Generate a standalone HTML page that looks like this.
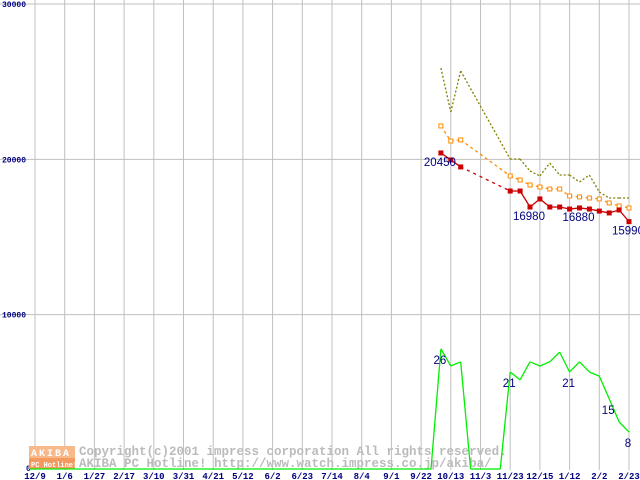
<!DOCTYPE html>
<html><head><meta charset="utf-8"><style>
body{margin:0;background:#fff;width:640px;height:480px;overflow:hidden}
svg{display:block;font-family:"Liberation Mono","DejaVu Sans Mono",monospace}
</style></head><body>
<svg id="c" width="640" height="480"></svg>
<script>
const xLabels=["12/9","1/6","1/27","2/17","3/10","3/31","4/21","5/12","6/2","6/23","7/14","8/4","9/1","9/22","10/13","11/3","11/23","12/15","1/12","2/2","2/23"];
const yTicks=[0,10000,20000,30000];
const startIdx=41;
const lowPrice=[20410,19960,19510,null,null,null,null,17960,17960,16930,17450,16930,16930,16800,16870,16800,16670,16550,16740,15990];
const avgPrice=[22150,21180,21250,null,null,null,null,18930,18670,18350,18220,18090,18090,17640,17580,17510,17450,17190,17000,16870];
const highPrice=[25880,23050,25690,null,null,null,null,20020,20020,19250,18930,19760,18990,18990,18540,18990,17900,17510,17510,17510];
const counts=[26,22.3,23.2,0,0,0,0,21,19.3,23.2,22.3,23.2,25.3,21,23.2,21,20.1,15.2,10.2,8];
const labels=[[0,"low","20450"],[9,"low","16980"],[14,"low","16880"],[19,"low","15990"],[0,"cnt","26"],[7,"cnt","21"],[13,"cnt","21"],[17,"cnt","15"],[19,"cnt","8"]];
const svg=document.getElementById('c');const NS="http://www.w3.org/2000/svg";
const X=i=>35+i*9.9;const Y=v=>470-v*0.015533;const YC=c=>469-c*4.62;
function mk(t,a,p){const e=document.createElementNS(NS,t);for(const k in a)e.setAttribute(k,a[k]);(p||svg).appendChild(e);return e;}
yTicks.forEach(v=>{if(v>0){const l=mk('line',{x1:0,x2:640,y1:Y(v),y2:Y(v),stroke:'#c0c0c0'});

}
const t=mk('text',{x:v?2:26,y:Y(v)+(v?3:1),fill:'#000080','font-size':8,'font-weight':'bold'});t.textContent=String(v);

});
xLabels.forEach((s,i)=>{const x=X(i*3);const l=mk('line',{x1:x,x2:x,y1:0,y2:470,stroke:'#c0c0c0'});


const t=mk('text',{x:x,y:479,fill:'#000080','font-size':9,'font-weight':'bold','text-anchor':'middle'});t.textContent=s;

});
const g=mk('g',{});


mk('rect',{x:29,y:446,width:46,height:12,fill:'#f7b88a'},g);mk('rect',{x:29,y:458,width:46,height:11,fill:'#f29a60'},g);
let t=mk('text',{x:31,y:456,fill:'#fff','font-size':10,'font-weight':'bold','letter-spacing':'2'},g);t.textContent="AKIBA";
t=mk('text',{x:31,y:467,fill:'#fff','font-size':7,'font-weight':'bold'},g);t.textContent="PC Hotline!";
t=mk('text',{x:79,y:455,fill:'#bbb','font-size':12.5,'font-weight':'bold'},g);t.textContent="Copyright(c)2001 impress corporation All rights reserved.";
t=mk('text',{x:79,y:467,fill:'#bbb','font-size':12.5,'font-weight':'bold'},g);t.textContent="AKIBA PC Hotline! http://www.watch.impress.co.jp/akiba/";
function series(arr,fy,color,dash,marker,name){
 let prev=null,prevI=null;
 arr.forEach((v,k)=>{if(v==null)return;const i=startIdx+k;
  if(prev!=null){const gap=i-prevI>1;const l=mk('line',{x1:X(prevI),y1:fy(prev),x2:X(i),y2:fy(v),stroke:color,'stroke-width':1.3});
   if(dash||gap)l.setAttribute('stroke-dasharray',dash||'3,4');
   
   }
  prev=v;prevI=i;});
 if(marker)arr.forEach((v,k)=>{if(v==null)return;const i=startIdx+k;
  const r=mk('rect',{x:X(i)-2,y:fy(v)-2,width:4,height:4,fill:marker==='open'?'#fff':color,stroke:color});
  
  });
}
const z=mk('polyline',{points:`30,469 ${X(startIdx-1)},469 ${X(startIdx)},${YC(counts[0])}`,fill:'none',stroke:'#00ee00','stroke-width':1.3});


series(counts,YC,'#00ee00',null,null,'count');
series(highPrice,Y,'#808000','2,2',null,'high-price');
series(avgPrice,Y,'#ff8c00','3,3','open','avg-price');
series(lowPrice,Y,'#cc0000',null,'fill','low-price');
labels.forEach(([k,s,txt])=>{const i=startIdx+k;const v=s==='low'?lowPrice[k]:counts[k];
 const y=s==='low'?Y(v)+13:YC(v)+15;
 const el=mk('text',{x:X(i)-1,y:y,fill:'#000080','font-size':11.5,'text-anchor':'middle','font-family':'Liberation Sans,sans-serif'});el.textContent=txt;
 
 });
</script>
</body></html>
